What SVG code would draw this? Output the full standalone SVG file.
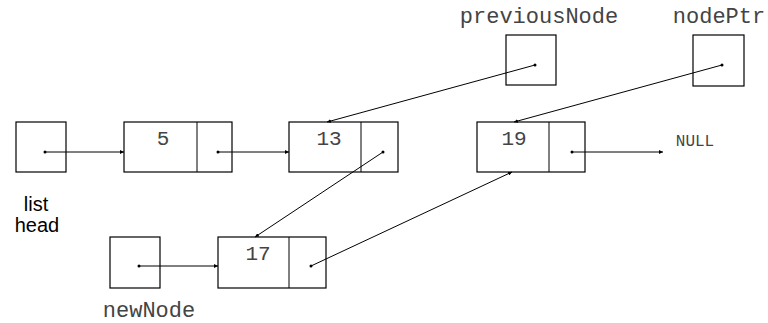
<svg xmlns="http://www.w3.org/2000/svg" width="768" height="323" viewBox="0 0 768 323">
<style>
.box{fill:#fff;stroke:#000;stroke-width:1.2}
.ln{stroke:#000;stroke-width:1;fill:none}
.dot{fill:#000}
.mono{font-family:"Liberation Mono","Courier New",monospace;font-size:21px;fill:#444}
.lbl{font-size:22px}
.sans{font-family:"Liberation Sans",Arial,sans-serif;font-size:20px;fill:#000}
</style>
<defs>
<marker id="ah" viewBox="0 0 6 6" refX="6" refY="3" markerWidth="4" markerHeight="4" orient="auto" markerUnits="userSpaceOnUse">
<path d="M0,0 L6,3 L0,6 z" fill="#000"/>
</marker>
</defs>
<rect width="768" height="323" fill="#fff"/>
<g id="listhead">
<rect class="box" x="16" y="122" width="50" height="50"/>
<circle class="dot" cx="45" cy="152" r="1.5"/>
<text class="sans" x="36" y="211" text-anchor="middle">list</text>
<text class="sans" x="37" y="232" text-anchor="middle">head</text>
</g>
<g id="node5">
<rect class="box" x="124" y="122" width="108" height="50"/>
<line class="ln" x1="197" y1="122" x2="197" y2="172"/>
<text class="mono" x="163" y="145" text-anchor="middle">5</text>
<circle class="dot" cx="218" cy="152" r="1.5"/>
</g>
<g id="node13">
<rect class="box" x="289" y="122" width="109" height="50"/>
<line class="ln" x1="361" y1="122" x2="361" y2="172"/>
<text class="mono" x="329" y="145" text-anchor="middle">13</text>
<circle class="dot" cx="383" cy="152" r="1.5"/>
</g>
<g id="node19">
<rect class="box" x="477" y="122" width="108" height="50"/>
<line class="ln" x1="549" y1="122" x2="549" y2="172"/>
<text class="mono" x="514" y="145" text-anchor="middle">19</text>
<circle class="dot" cx="572" cy="152" r="1.5"/>
</g>
<g id="null">
<text class="mono" x="695" y="146" text-anchor="middle" style="font-size:16px">NULL</text>
</g>
<g id="previousNode">
<text class="mono lbl" x="539" y="23" text-anchor="middle">previousNode</text>
<rect class="box" x="506" y="35" width="50" height="50"/>
<circle class="dot" cx="535" cy="65" r="1.5"/>
</g>
<g id="nodePtr">
<text class="mono lbl" x="719" y="23" text-anchor="middle">nodePtr</text>
<rect class="box" x="693" y="35" width="51" height="51"/>
<circle class="dot" cx="722" cy="65" r="1.5"/>
</g>
<g id="newNode">
<rect class="box" x="110" y="237" width="50" height="51"/>
<circle class="dot" cx="139" cy="266" r="1.5"/>
<text class="mono lbl" x="149" y="317" text-anchor="middle">newNode</text>
</g>
<g id="node17">
<rect class="box" x="218" y="237" width="108" height="51"/>
<line class="ln" x1="289" y1="237" x2="289" y2="288"/>
<text class="mono" x="258" y="260" text-anchor="middle">17</text>
<circle class="dot" cx="311" cy="266" r="1.5"/>
</g>
<g id="connectors">
<line class="ln" x1="45" y1="152" x2="124" y2="152" marker-end="url(#ah)"/>
<line class="ln" x1="218" y1="152" x2="289" y2="152" marker-end="url(#ah)"/>
<line class="ln" x1="572" y1="152" x2="663" y2="152" marker-end="url(#ah)"/>
<line class="ln" x1="535" y1="65" x2="327" y2="122" marker-end="url(#ah)"/>
<line class="ln" x1="722" y1="65" x2="514" y2="122" marker-end="url(#ah)"/>
<line class="ln" x1="383" y1="152" x2="255" y2="237" marker-end="url(#ah)"/>
<line class="ln" x1="139" y1="266" x2="218" y2="266" marker-end="url(#ah)"/>
<line class="ln" x1="311" y1="266" x2="512" y2="172" marker-end="url(#ah)"/>
</g>
</svg>
